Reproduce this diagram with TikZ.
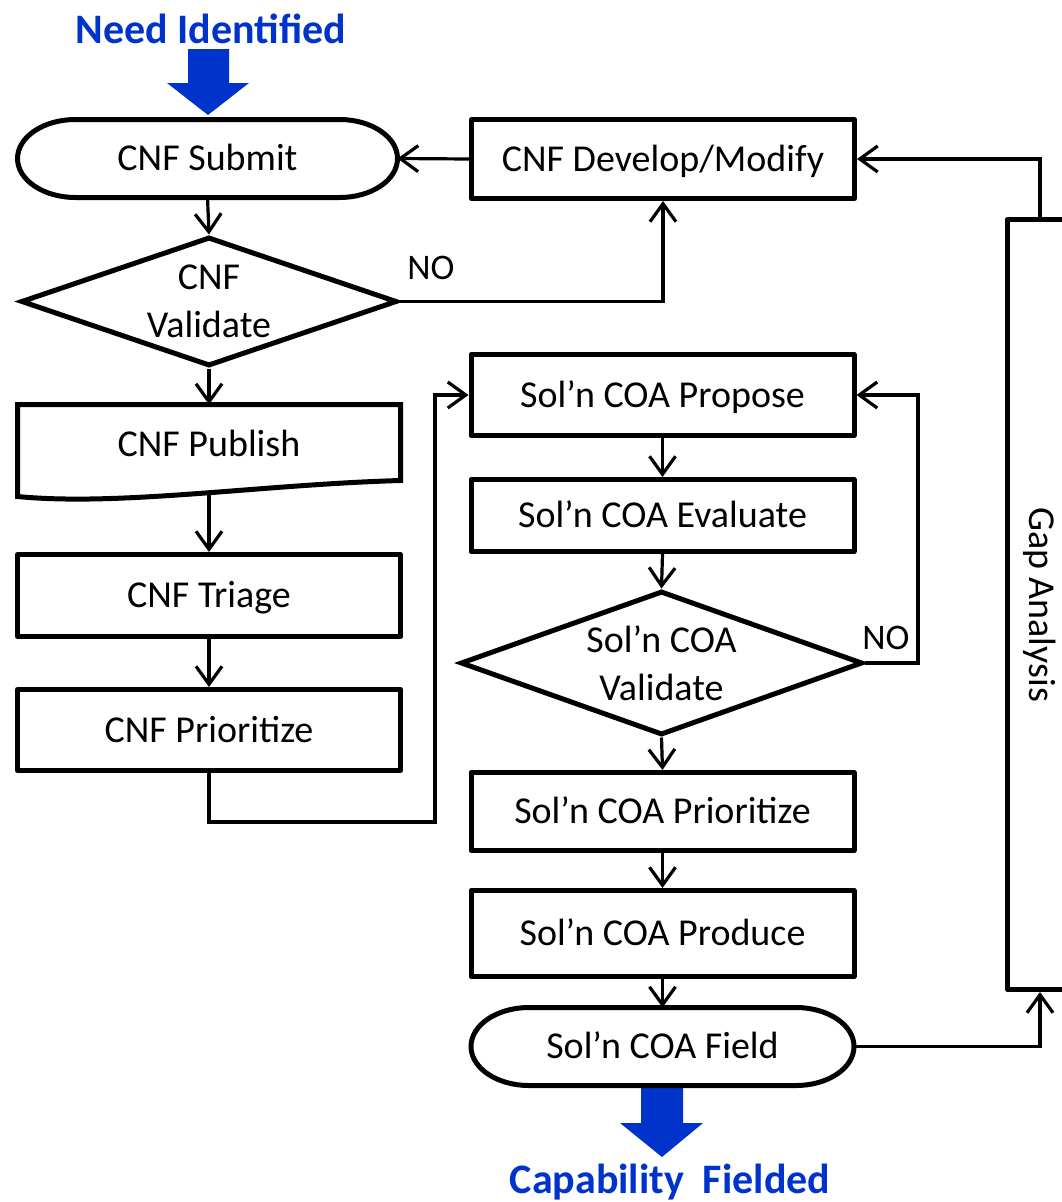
\documentclass[tikz,border=0pt]{standalone}
\usepackage{fontspec}
\setmainfont{Carlito}
\usetikzlibrary{arrows.meta,shapes.geometric,calc}
\definecolor{needblue}{HTML}{0033CC}
\newcommand\drawstadium[1]{%
  \draw[boxline] ($(#1.north west)+(58,0)$) -- ($(#1.north east)+(-58,0)$)
    arc[start angle=90,end angle=-90,x radius=58pt,y radius=39pt]
    -- ($(#1.south west)+(58,0)$)
    arc[start angle=270,end angle=90,x radius=58pt,y radius=39pt] -- cycle;}
\begin{document}
\begin{tikzpicture}[x=1pt,y=-1pt,
  mainfont/.style={font=\fontsize{38}{48}\selectfont},
  boxline/.style={draw=black, line width=5pt, line join=round},
  box/.style={mainfont, draw, line width=5pt, line join=round, minimum width=383pt,
    inner sep=0pt, text height=24.5pt, text depth=0pt},
  term/.style={mainfont, minimum width=380pt, minimum height=78pt, inner sep=0pt,
    outer sep=0pt, text height=24.5pt, text depth=0pt},
  docnode/.style={mainfont, minimum width=383pt, minimum height=80pt, inner sep=0pt,
    outer sep=0pt, text height=24.5pt, text depth=0pt},
  dec/.style={mainfont, diamond, aspect=2.9, draw, line width=5pt, line join=miter, inner sep=0pt,
    align=center},
  gapbox/.style={mainfont, draw, line width=5pt, line join=round, minimum width=65pt,
    minimum height=770pt, inner sep=0pt},
  lbl/.style={font=\fontsize{36}{42}\selectfont, inner sep=0pt, text height=23.2pt, text depth=0pt},
  title/.style={font=\fontsize{42}{50}\selectfont\bfseries, text=needblue, inner sep=0pt},
  conn/.style={draw, line width=3.2pt, line join=miter,
    -{Straight Barb[length=18pt,width=26pt]}}
]
\useasboundingbox (0,0) rectangle (1062,1202);
\clip (0,0) rectangle (1062,1202);

% titles and block arrows
\node[title, anchor=base] (need) at (211,43) {Need Identified};
\node[title, anchor=base] (capf) at (670,1193) {Capability\hspace{0.45em}Fielded};
\fill[needblue] (188,49) -- (229,49) -- (229,83) -- (249,83) -- (208,115)
  -- (167,83) -- (188,83) -- cycle;
\fill[needblue] (641,1086) -- (683,1086) -- (683,1123) -- (703,1123) -- (662,1157)
  -- (620,1123) -- (641,1123) -- cycle;

% left column
\node[term] (submit) at (207.5,158.5) {CNF Submit};
\drawstadium{submit}
\node[dec, minimum width=376pt, minimum height=129pt] (val) at (209,301.5) {CNF\\Validate};
\node[docnode] (publish) at (209,444.5) {CNF Publish};
\draw[boxline, line join=miter] (publish.north west) -- (publish.north east)
  -- ([shift={(0,-4)}]publish.south east)
  .. controls ([shift={(-140,0)}]publish.south east) and ([shift={(103,22)}]publish.south west)
  .. ([shift={(0,12)}]publish.south west) -- cycle;
\node[box, minimum height=82pt] (triage) at (209,595.5) {CNF Triage};
\node[box, minimum height=81pt] (prior) at (209,730) {CNF Prioritize};

% middle column
\node[box, minimum height=79pt] (develop) at (663,159) {CNF Develop/Modify};
\node[box, minimum height=81pt] (propose) at (662.5,395) {Sol’n COA Propose};
\node[box, minimum height=72pt] (evaluate) at (662.5,515.5) {Sol’n COA Evaluate};
\node[dec, minimum width=402pt, minimum height=144pt] (val2) at (661.5,663) {Sol’n COA\\Validate};
\node[box, minimum height=78pt] (prior2) at (662.5,811.5) {Sol’n COA Prioritize};
\node[box, minimum height=86pt] (produce) at (662.5,933.5) {Sol’n COA Produce};
\node[term, minimum width=383pt] (field) at (662.5,1046.5) {Sol’n COA Field};
\drawstadium{field}

% right column
\node[gapbox] (gap) at (1040,604.5) {\rotatebox{-90}{Gap Analysis}};

% labels
\node[lbl] (no1) at (431,268) {NO};
\node[lbl] (no2) at (886,638) {NO};

% helper coordinates
\coordinate (pk) at (435,0);
\coordinate (nk) at (918,0);

% connectors
\draw[conn] (submit.south) -- (val.north);
\draw[conn] (val.east) -| (develop.south);
\draw[conn] (develop.west) -- (submit.east);
\draw[conn] (val.south) -- (publish.north);
\draw[conn] ([shift={(0,10)}]publish.south) -- (triage.north);
\draw[conn] (triage.south) -- (prior.north);
\draw[conn] (prior.south) -- ++(0,49) -| (pk |- propose.west) -- (propose.west);
\draw[conn] (propose.south) -- (evaluate.north);
\draw[conn] (evaluate.south) -- (val2.north);
\draw[conn] (val2.east) -- (val2.east -| nk) -- (nk |- propose.east) -- (propose.east);
\draw[conn] (val2.south) -- (prior2.north);
\draw[conn] (prior2.south) -- (produce.north);
\draw[conn] (produce.south) -- (field.north);
\draw[conn] (field.east) -| (gap.south);
\draw[conn] (gap.north) |- (develop.east);
\end{tikzpicture}
\end{document}
